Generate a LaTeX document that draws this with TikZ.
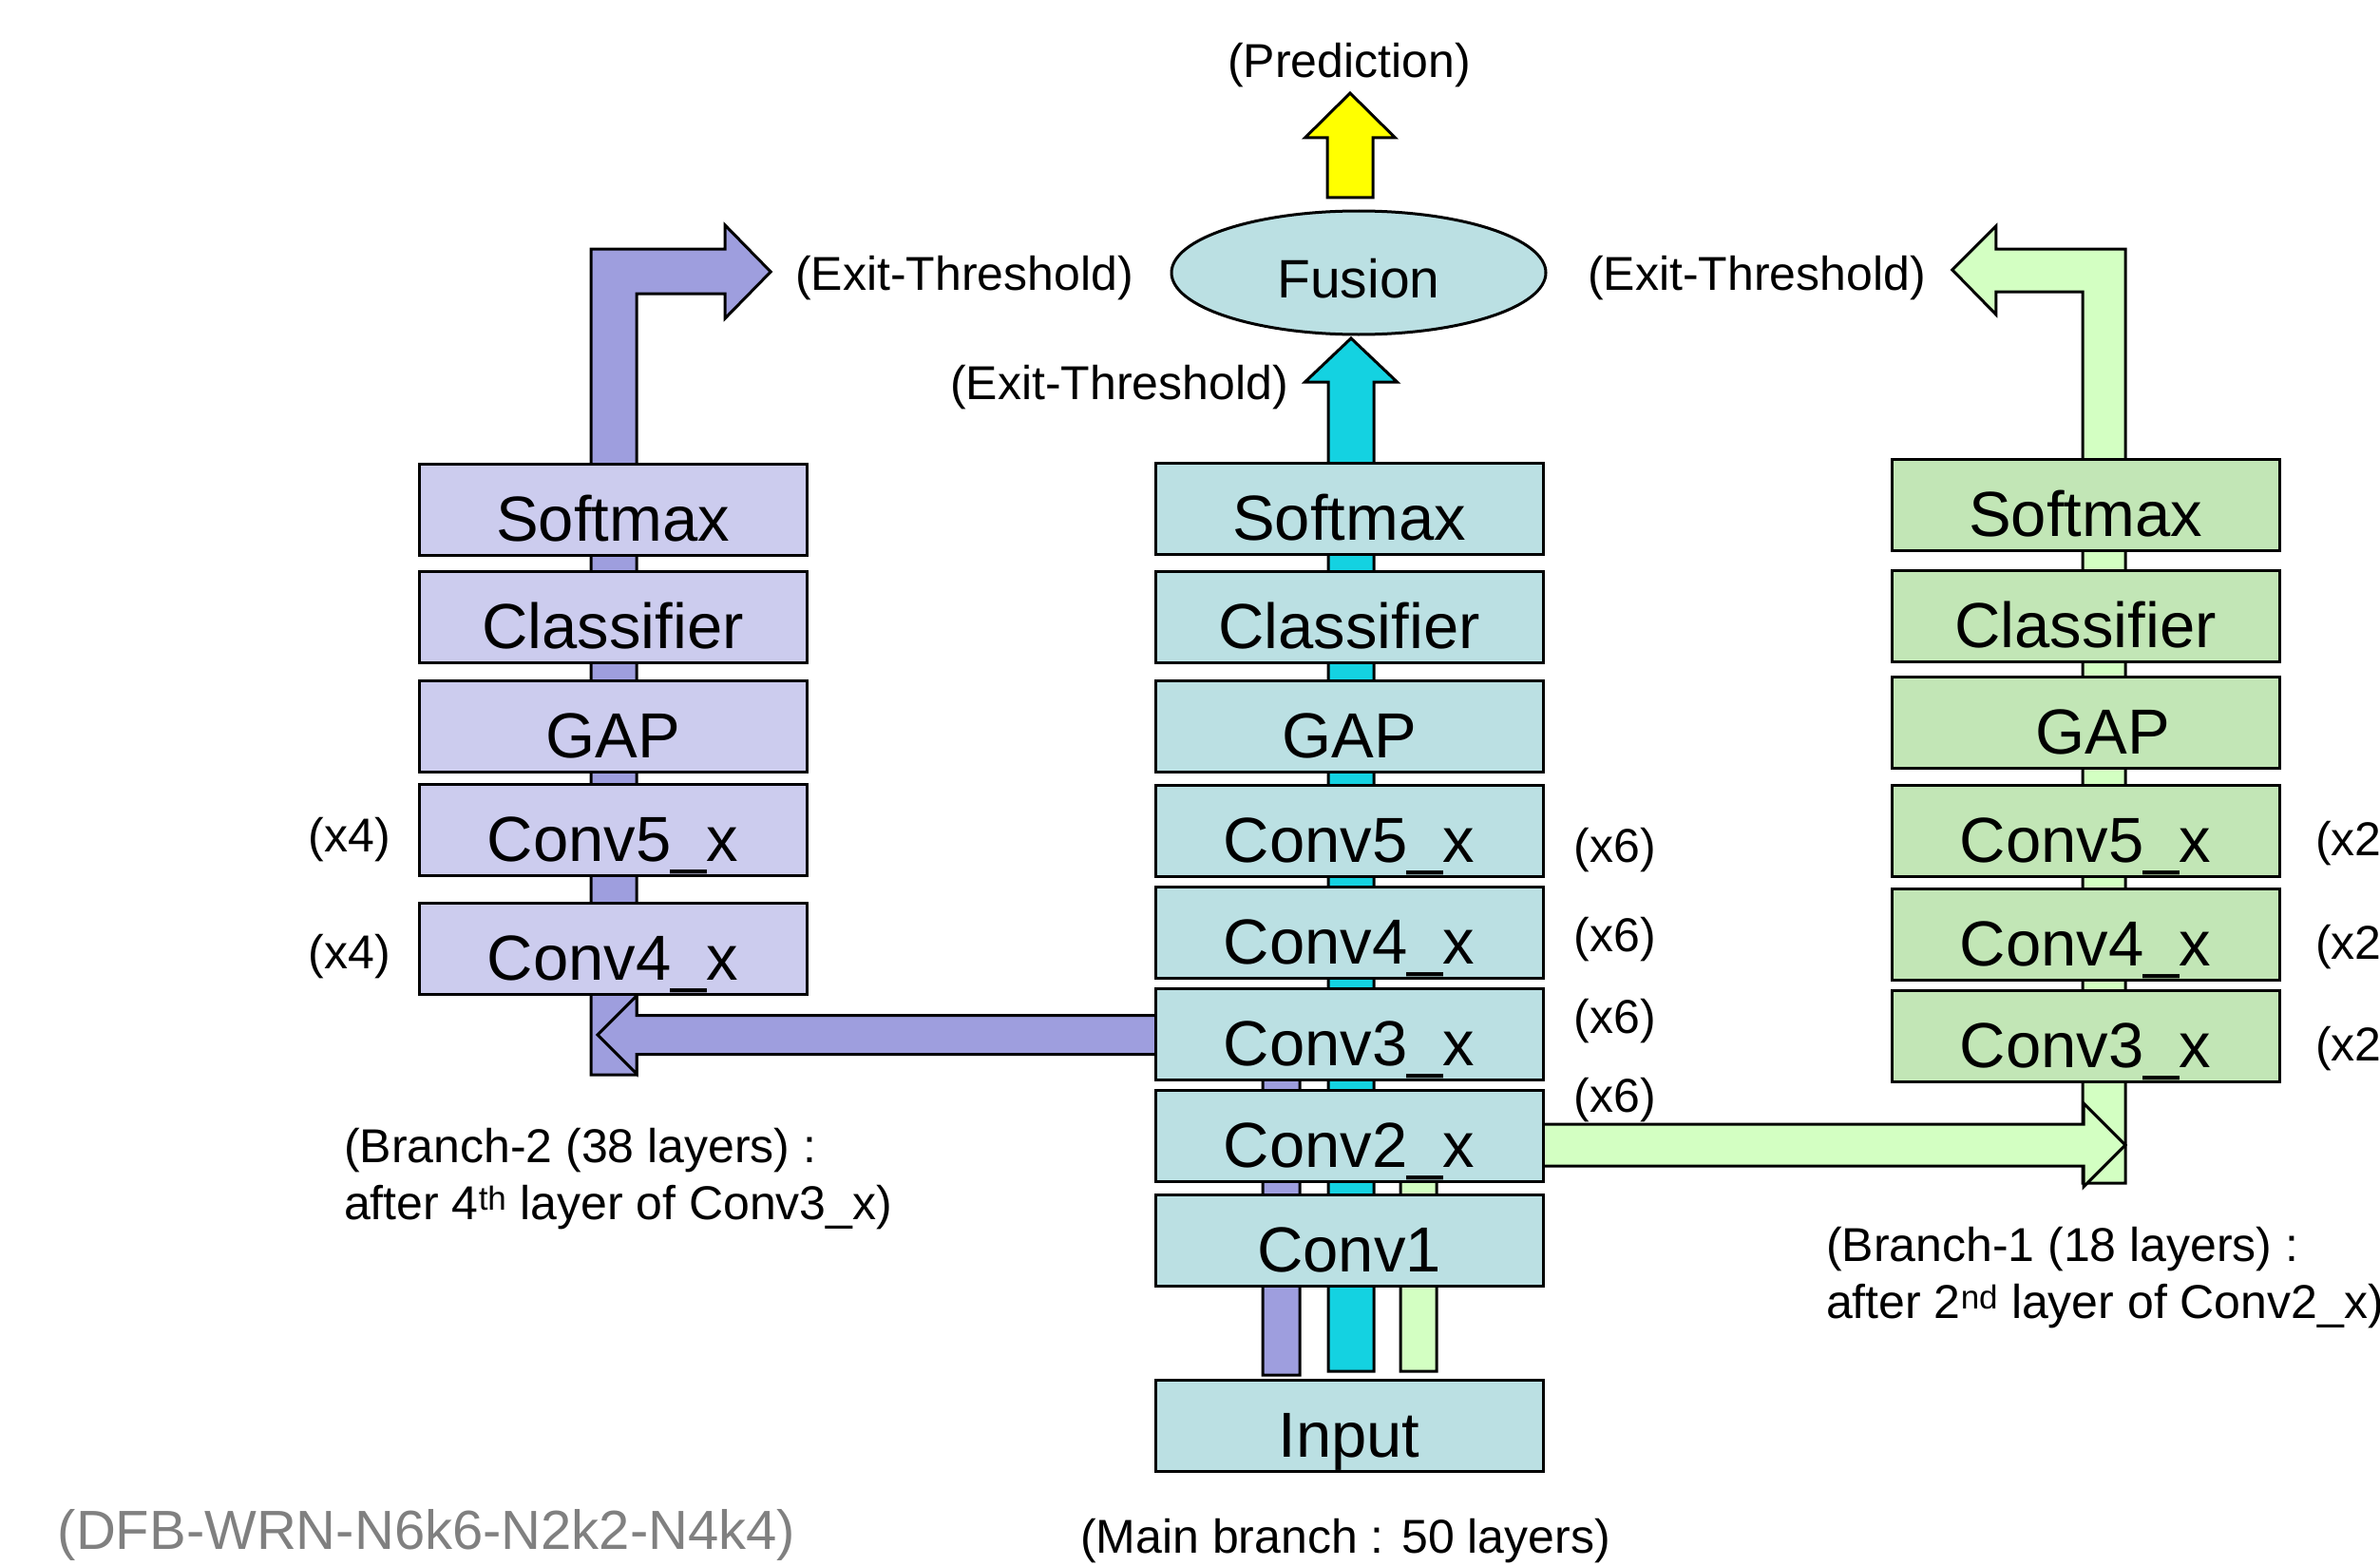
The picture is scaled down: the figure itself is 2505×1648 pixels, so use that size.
\documentclass[tikz,border=0pt]{standalone}
\usepackage{fontspec}
\setmainfont{Liberation Sans}
\usetikzlibrary{calc,shapes.geometric}
\pgfdeclarelayer{background}
\pgfsetlayers{background,main}

\definecolor{mainfill}{HTML}{BBE0E3}
\definecolor{leftfill}{HTML}{CCCCEE}
\definecolor{rightfill}{HTML}{C2E6B6}
\definecolor{purplebar}{HTML}{9E9EDE}
\definecolor{cyanbar}{HTML}{14D2E1}
\definecolor{greenbar}{HTML}{D3FFC2}
\definecolor{predyellow}{HTML}{FFFF00}
\definecolor{notegray}{HTML}{808080}

\begin{document}
\begin{tikzpicture}[x=1pt,y=-1pt,
  box/.style={draw=black, line width=3pt, minimum width=408pt, minimum height=96pt,
    inner sep=0pt, outer sep=0pt, text height=66pt, text depth=0pt,
    font=\fontsize{67pt}{80pt}\selectfont},
  mbox/.style={box, fill=mainfill},
  lbox/.style={box, fill=leftfill},
  rbox/.style={box, fill=rightfill},
  lbl/.style={inner sep=0pt, outer sep=0pt, font=\fontsize{50pt}{60pt}\selectfont},
  clbl/.style={lbl, yshift=-5pt},
  blockarrow/.style={draw=black, line width=3pt, line join=miter}
]
\useasboundingbox (0,0) rectangle (2505,1648);
\clip (0,0) rectangle (2505,1648);

% ---------- main branch ----------
\node[mbox] (m-sm)  at (1420,535)  {Softmax};
\node[mbox] (m-cl)  at (1420,649)  {Classifier};
\node[mbox] (m-gap) at (1420,764)  {GAP};
\node[mbox] (m-c5)  at (1420,874)  {Conv5\_x};
\node[mbox] (m-c4)  at (1420,981)  {Conv4\_x};
\node[mbox] (m-c3)  at (1420,1088) {Conv3\_x};
\node[mbox] (m-c2)  at (1420,1195) {Conv2\_x};
\node[mbox] (m-c1)  at (1420,1305) {Conv1};
\node[mbox] (m-in)  at (1420,1500) {Input};

% ---------- branch 2 (left) ----------
\node[lbox] (l-sm)  at (645,536)   {Softmax};
\node[lbox] (l-cl)  at (645,649.5) {Classifier};
\node[lbox] (l-gap) at (645,764.5) {GAP};
\node[lbox] (l-c5)  at (645,873.5) {Conv5\_x};
\node[lbox] (l-c4)  at (645,998)   {Conv4\_x};

% ---------- branch 1 (right) ----------
\node[rbox] (r-sm)  at (2195,531.5) {Softmax};
\node[rbox] (r-cl)  at (2195,648)   {Classifier};
\node[rbox] (r-gap) at (2195,760)   {\hspace*{36pt}GAP};
\node[rbox] (r-c5)  at (2195,874)   {Conv5\_x};
\node[rbox] (r-c4)  at (2195,983)   {Conv4\_x};
\node[rbox] (r-c3)  at (2195,1090)  {Conv3\_x};

% ---------- fusion ----------
\node[ellipse, draw=black, line width=3pt, fill=mainfill, minimum width=394pt,
  minimum height=130pt, inner sep=0pt, outer sep=0pt, text height=53pt, text depth=0pt,
  font=\fontsize{57pt}{68pt}\selectfont] (fu) at (1430,287) {Fusion};

% ---------- labels ----------
\node[clbl] (pred) at (1420,64)  {(Prediction)};
\node[clbl] (lx)   at (1015,288) {(Exit-Threshold)};
\node[clbl] (cx)   at (1178,403) {(Exit-Threshold)};
\node[clbl] (rx)   at (1849,288) {(Exit-Threshold)};

\node[clbl] (l5n) at (368,879)  {(x4)};
\node[clbl] (l4n) at (368,1002) {(x4)};

\node[clbl] (m5n) at (1700,890)  {(x6)};
\node[clbl] (m4n) at (1700,984)  {(x6)};
\node[clbl] (m3n) at (1700,1070) {(x6)};
\node[clbl] (m2n) at (1700,1153) {(x6)};

\node[clbl, anchor=west] (r5n) at (2437,883)  {(x2)};
\node[clbl, anchor=west] (r4n) at (2437,992)  {(x2)};
\node[clbl, anchor=west] (r3n) at (2437,1099) {(x2)};

\node[lbl, anchor=base west] (b2a) at (362,1223) {(Branch-2 (38 layers) :};
\node[lbl, anchor=base west] (b2b) at (362,1283) {after 4\textsuperscript{th} layer of Conv3\_x)};
\node[lbl, anchor=base west] (b1a) at (1922,1327) {(Branch-1 (18 layers) :};
\node[lbl, anchor=base west] (b1b) at (1922,1387) {after 2\textsuperscript{nd} layer of Conv2\_x)};

\node[clbl] (mainb) at (1416,1617) {(Main branch : 50 layers)};
\node[clbl, text=notegray, font=\fontsize{58pt}{70pt}\selectfont] (cfg) at (449,1610)
  {(DFB-WRN-N6k6-N2k2-N4k4)};

% ---------- block arrows (behind the boxes) ----------
\begin{pgfonlayer}{background}
  % branch-2 column bar with its exit arrow
  \coordinate (B2b) at ([xshift=1pt,yshift=-85pt]l-c4.south);
  \coordinate (T2)  at ($(lx.west)+(-26,-7)$);
  \draw[blockarrow, fill=purplebar]
    ($(B2b)+(-24,0)$) -- ($(B2b |- T2)+(-24,-24)$) -- ($(T2)+(-48,-24)$)
    -- ($(T2)+(-48,-49)$) -- (T2) -- ($(T2)+(-48,49)$) -- ($(T2)+(-48,23)$)
    -- ($(B2b |- T2)+(24,23)$) -- ($(B2b)+(24,0)$) -- cycle;

  % feed from the main branch into branch 2 (leaves Conv3_x)
  \coordinate (B2m) at ([xshift=-71.5pt,yshift=5pt]m-in.north);
  \coordinate (T2s) at ($(B2b |- m-c3)+(-17,1)$);
  \draw[blockarrow, fill=purplebar]
    ($(B2m)+(-19.5,0)$) -- ($(B2m |- T2s)+(-19.5,20.5)$) -- ($(T2s)+(41,20.5)$)
    -- ($(T2s)+(41,41)$) -- (T2s) -- ($(T2s)+(41,-41)$) -- ($(T2s)+(41,-20.5)$)
    -- ($(B2m |- T2s)+(19.5,-20.5)$) -- ($(B2m)+(19.5,0)$) -- cycle;

  % branch-1 column bar with its exit arrow
  \coordinate (B1b) at ([xshift=19.5pt,yshift=-107pt]r-c3.south);
  \coordinate (T1)  at ($(rx.east)+(28,-9)$);
  \draw[blockarrow, fill=greenbar]
    ($(B1b)+(22.5,0)$) -- ($(B1b |- T1)+(22.5,-22)$) -- ($(T1)+(46,-22)$)
    -- ($(T1)+(46,-46)$) -- (T1) -- ($(T1)+(46,47)$) -- ($(T1)+(46,23)$)
    -- ($(B1b |- T1)+(-22.5,23)$) -- ($(B1b)+(-22.5,0)$) -- cycle;

  % feed from the main branch into branch 1 (leaves Conv2_x)
  \coordinate (B1m) at ([xshift=73pt,yshift=9pt]m-in.north);
  \coordinate (T1s) at ($(B1b |- m-c2)+(22.5,10)$);
  \draw[blockarrow, fill=greenbar]
    ($(B1m)+(-19,0)$) -- ($(B1m |- T1s)+(-19,-22)$) -- ($(T1s)+(-44,-22)$)
    -- ($(T1s)+(-44,-44)$) -- (T1s) -- ($(T1s)+(-44,44)$) -- ($(T1s)+(-44,22)$)
    -- ($(B1m |- T1s)+(19,22)$) -- ($(B1m)+(19,0)$) -- cycle;

  % main branch bar up into Fusion
  \coordinate (Cb) at ([xshift=2pt,yshift=9pt]m-in.north);
  \coordinate (Tc) at ($(Cb |- fu.south)+(0,4)$);
  \draw[blockarrow, fill=cyanbar]
    ($(Cb)+(-24,0)$) -- ($(Tc)+(-24,46)$) -- ($(Tc)+(-48.5,46)$) -- (Tc)
    -- ($(Tc)+(48.5,46)$) -- ($(Tc)+(24,46)$) -- ($(Cb)+(24,0)$) -- cycle;

  % Fusion output: prediction
  \coordinate (Yb) at ($(fu.north)+(-9,-14)$);
  \coordinate (Yt) at ($(Yb)+(0,-110)$);
  \draw[blockarrow, fill=predyellow]
    ($(Yb)+(-24,0)$) -- ($(Yt)+(-24,47)$) -- ($(Yt)+(-47.5,47)$) -- (Yt)
    -- ($(Yt)+(47.5,47)$) -- ($(Yt)+(24,47)$) -- ($(Yb)+(24,0)$) -- cycle;
\end{pgfonlayer}
\end{tikzpicture}
\end{document}
